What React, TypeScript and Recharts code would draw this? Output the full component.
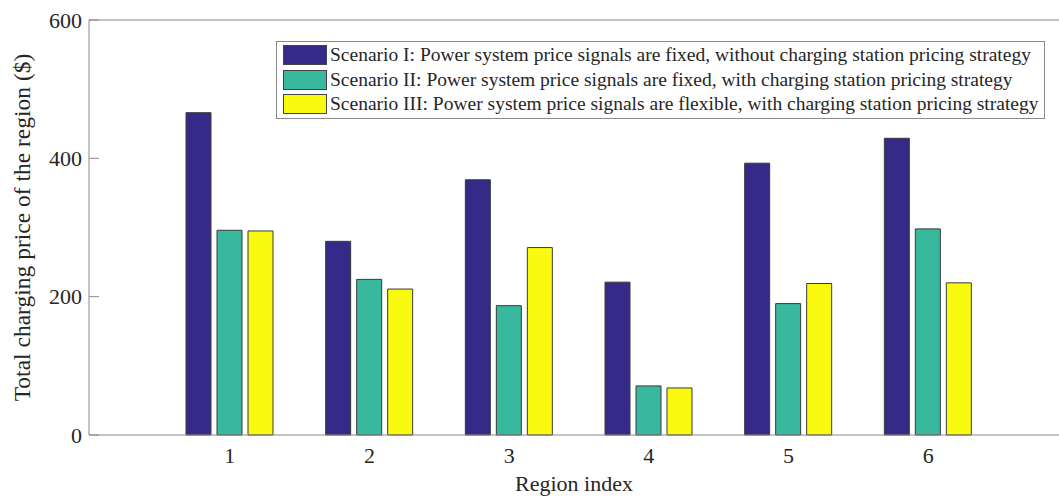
import { BarChart, Bar, XAxis, YAxis, Legend, ReferenceLine } from "recharts";

const regions = ["1", "2", "3", "4", "5", "6"];
const scenario1 = [466, 280, 369, 221, 393, 429];
const scenario2 = [296, 225, 187, 71, 190, 298];
const scenario3 = [295, 211, 271, 68, 219, 220];
const yTicks = [0, 200, 400, 600];

const series = [
  { key: "s1", name: "Scenario I: Power system price signals are fixed, without charging station pricing strategy", color: "#352a87" },
  { key: "s2", name: "Scenario II: Power system price signals are fixed, with charging station pricing strategy", color: "#38b89d" },
  { key: "s3", name: "Scenario III: Power system price signals are flexible, with charging station pricing strategy", color: "#f9fa0f" },
];

const data = regions.map((r, i) => ({ region: r, s1: scenario1[i], s2: scenario2[i], s3: scenario3[i] }));

const FONT = '"Liberation Serif", "Times New Roman", serif';
const TEXT = "#262626";
const AXIS = "#8a8a8a";

function LegendBox() {
  return (
    <div
      style={{
        border: `1px solid ${AXIS}`,
        background: "#fff",
        padding: "1px 6px 1px 6px",
        fontFamily: FONT,
        fontSize: 19.5,
        color: TEXT,
        lineHeight: "24.5px",
      }}
    >
      {series.map((s) => (
        <div key={s.key} style={{ display: "flex", alignItems: "center", whiteSpace: "nowrap" }}>
          <span
            style={{
              display: "inline-block",
              width: 42,
              height: 18,
              background: s.color,
              border: "1px solid #444",
              marginRight: 3,
            }}
          />
          {s.name}
        </div>
      ))}
    </div>
  );
}

export default function App() {
  return (
    <div style={{ position: "absolute", left: 0, top: 0, background: "#fff" }}>
      <BarChart
        width={1059}
        height={497}
        data={data}
        margin={{ top: 20, right: 0, left: 0, bottom: 0 }}
        barSize={25}
        barGap={6}
      >
        <XAxis
          dataKey="region"
          height={62}
          padding={{ left: 71, right: 61 }}
          tickLine={false}
          axisLine={{ stroke: AXIS }}
          tick={{ fontSize: 22, fill: TEXT, fontFamily: FONT }}
          tickMargin={6}
          label={{ value: "Region index", position: "insideBottom", offset: 6, fontSize: 22, fill: TEXT, fontFamily: FONT }}
        />
        <YAxis
          width={89}
          domain={[0, 600]}
          ticks={yTicks}
          tickSize={-10}
          tickMargin={17}
          tickLine={{ stroke: AXIS }}
          axisLine={{ stroke: AXIS }}
          tick={{ fontSize: 22, fill: TEXT, fontFamily: FONT }}
          label={{
            value: "Total charging price of the region ($)",
            angle: -90,
            position: "insideLeft",
            offset: 22,
            fontSize: 23.5,
            fill: TEXT,
            fontFamily: FONT,
            style: { textAnchor: "middle" },
          }}
        />
        <YAxis
          yAxisId="right"
          orientation="right"
          width={0}
          domain={[0, 600]}
          ticks={[200, 400]}
          tickSize={-2}
          tickLine={{ stroke: AXIS }}
          axisLine={false}
          tickFormatter={() => ""}
        />
        <ReferenceLine y={600} stroke={AXIS} />
        <Legend
          layout="vertical"
          align="center"
          verticalAlign="middle"
          content={() => <LegendBox />}
          wrapperStyle={{ position: "absolute", top: 41, left: 276, width: "auto", transform: "none" }}
        />
        {series.map((s) => (
          <Bar
            key={s.key}
            dataKey={s.key}
            name={s.name}
            fill={s.color}
            stroke="#3a3a3a"
            strokeWidth={1}
            isAnimationActive={false}
          />
        ))}
      </BarChart>
    </div>
  );
}
